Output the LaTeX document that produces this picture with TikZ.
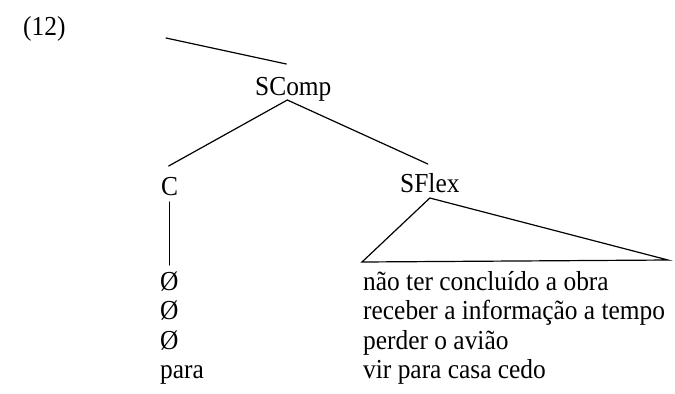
\documentclass[tikz,border=0pt]{standalone}
\usepackage{graphicx}
\usepackage{fontspec}
\setmainfont{Liberation Serif}
\newcommand{\vtx}[1]{\scalebox{1}[1.08]{#1}}
\begin{document}
\begin{tikzpicture}[x=1bp,y=-1bp,
  lbl/.style={inner sep=0pt, anchor=base west, font=\fontsize{25.5}{25.5}\selectfont},
  tline/.style={line width=1.2bp, line cap=round, line join=miter}]
\useasboundingbox (0,0) rectangle (675,393);
\node[lbl] (ex) at (23,35) {\vtx{(12)}};
\node[lbl] (scomp) at (255,95) {\vtx{SComp}};
\node[lbl] (c) at (161,195) {\vtx{C}};
\node[lbl] (sflex) at (400,192) {\vtx{SFlex}};
\node[lbl] (z1) at (160,290) {\vtx{Ø}};
\node[lbl] (z2) at (160,319.5) {\vtx{Ø}};
\node[lbl] (z3) at (160,349) {\vtx{Ø}};
\node[lbl] (z4) at (160,378.5) {\vtx{para}};
\node[lbl] (s1) at (363,290) {\vtx{não ter concluído a obra}};
\node[lbl] (s2) at (363,319.5) {\vtx{receber a informação a tempo}};
\node[lbl] (s3) at (363,349) {\vtx{perder o avião}};
\node[lbl] (s4) at (363,378.5) {\vtx{vir para casa cedo}};
\coordinate (top) at (166,38);
\coordinate (triL) at (362,262);
\coordinate (triR) at (668,260);
\draw[tline] (top) -- ([shift={(-7,-31)}]scomp.base);
\draw[tline] ([shift={(-6,5)}]scomp.base) -- ([shift={(-1,-29)}]c.base);
\draw[tline] ([shift={(-6,5)}]scomp.base) -- ([shift={(-2,-28)}]sflex.base);
\draw[tline] ([shift={(0,7)}]c.base) -- ([shift={(0,-25)}]c.base |- z1.base);
\draw[tline] ([shift={(0,6)}]sflex.base) -- (triL) -- (triR) -- cycle;
\end{tikzpicture}
\end{document}
